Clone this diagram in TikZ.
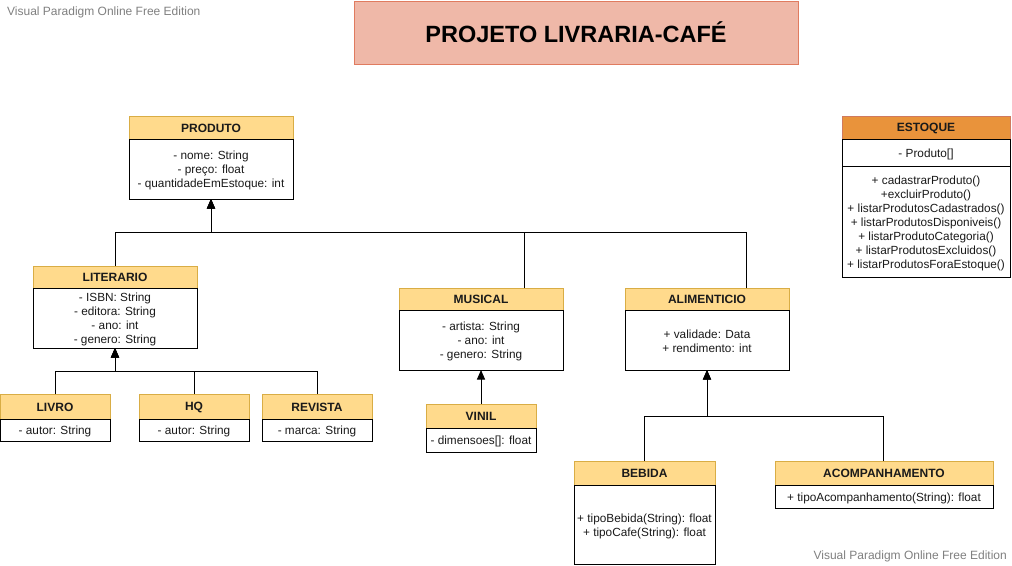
\documentclass[tikz,border=0pt]{standalone}
\usepackage{fontspec}
\setmainfont{Liberation Sans}
\usetikzlibrary{arrows.meta}
\definecolor{hdrfill}{HTML}{FFDA8C}
\definecolor{hdrline}{HTML}{D9AD45}
\definecolor{estfill}{HTML}{E9933B}
\definecolor{estline}{HTML}{D07A5E}
\definecolor{titfill}{HTML}{EFB8A8}
\definecolor{titline}{HTML}{E07B5F}
\definecolor{wm}{HTML}{808080}
\definecolor{txt}{HTML}{1A1A1A}
\tikzset{
  base/.style={anchor=north west, inner sep=0pt, outer sep=0pt, line width=1pt, align=center, text=txt},
  hdr/.style={base, draw=hdrline, fill=hdrfill},
  esthdr/.style={base, draw=estline, fill=estfill},
  hdrtext/.style={inner sep=0pt, align=center, text=txt, font=\fontsize{12}{14}\selectfont\bfseries},
  bodyrect/.style={base, draw=black, fill=white},
  bodytext/.style={inner sep=0pt, align=center, text=txt, font=\fontsize{11.8}{14}\selectfont},
  inh/.style={draw=black, line width=1pt, -{Triangle[width=8pt,length=9.5pt]}},
  wmark/.style={text=wm, inner sep=0pt, font=\fontsize{12}{14}\selectfont}
}
% name, x, y, width, height, text
\newcommand\umlbody[6]{%
  \node[bodyrect, minimum width=#4pt, minimum height=#5pt] (#1) at (#2,#3) {};
  \node[bodytext] (#1-t) at ([yshift=-1.5pt]#1.center) {#6};
}
% style, name, x, y, width, height, text
\newcommand\umlhead[7]{%
  \node[#1, minimum width=#5pt, minimum height=#6pt] (#2) at (#3,#4) {};
  \node[hdrtext] (#2-t) at ([yshift=-0.8pt]#2.center) {#7};
}
\begin{document}
\begin{tikzpicture}[x=1pt, y=-1pt]
\useasboundingbox (0,0) rectangle (1012,565);
\fill[white] (0,0) rectangle (1012,565);

% watermarks
\node[wmark, anchor=west] (wm1) at (7,12) {Visual Paradigm Online Free Edition};
\node[wmark, anchor=east] (wm2) at (1007,556) {Visual Paradigm Online Free Edition};

% title
\node[base, draw=titline, fill=titfill, minimum width=444pt, minimum height=63pt, font=\fontsize{23.5}{28}\selectfont\bfseries, text=black] (title) at (354,1) {PROJETO LIVRARIA-CAFÉ};

% PRODUTO
\umlhead{hdr}{produtoH}{129}{116}{164}{23}{PRODUTO}
\umlbody{produtoB}{129}{139}{164}{60}{- nome: String\\- preço: float\\- quantidadeEmEstoque: int}

% ESTOQUE
\umlhead{esthdr}{estoqueH}{842}{116}{168}{23}{ESTOQUE}
\umlbody{estoqueA}{842}{139}{168}{27}{- Produto[]}
\umlbody{estoqueM}{842}{166}{168}{111}{+ cadastrarProduto()\\+excluirProduto()\\+ listarProdutosCadastrados()\\+ listarProdutosDisponiveis()\\+ listarProdutoCategoria()\\+ listarProdutosExcluidos()\\+ listarProdutosForaEstoque()}

% LITERARIO
\umlhead{hdr}{literarioH}{33}{266}{164}{22}{LITERARIO}
\umlbody{literarioB}{33}{288}{164}{60}{- ISBN: String\\- editora: String\\- ano: int\\- genero: String}

% LIVRO, HQ, REVISTA
\umlhead{hdr}{livroH}{0}{394}{110}{25}{LIVRO}
\umlbody{livroB}{0}{419}{110}{22}{- autor: String}
\umlhead{hdr}{hqH}{139}{394}{110}{25}{HQ}
\umlbody{hqB}{139}{419}{110}{22}{- autor: String}
\umlhead{hdr}{revistaH}{262}{394}{110}{25}{REVISTA}
\umlbody{revistaB}{262}{419}{110}{22}{- marca: String}

% MUSICAL
\umlhead{hdr}{musicalH}{399}{288}{164}{22}{MUSICAL}
\umlbody{musicalB}{399}{310}{164}{60}{- artista: String\\- ano: int\\- genero: String}

% VINIL
\umlhead{hdr}{vinilH}{426}{404}{110}{24}{VINIL}
\umlbody{vinilB}{426}{428}{110}{24}{- dimensoes[]: float}

% ALIMENTICIO
\umlhead{hdr}{alimH}{625}{288}{164}{22}{ALIMENTICIO}
\umlbody{alimB}{625}{310}{164}{60}{+ validade: Data\\+ rendimento: int}

% BEBIDA
\umlhead{hdr}{bebidaH}{574}{461}{141}{24}{BEBIDA}
\umlbody{bebidaB}{574}{485}{141}{79}{+ tipoBebida(String): float\\+ tipoCafe(String): float}

% ACOMPANHAMENTO
\umlhead{hdr}{acompH}{775}{461}{218}{24}{ACOMPANHAMENTO}
\umlbody{acompB}{775}{485}{218}{23}{+ tipoAcompanhamento(String): float}

% buses
\coordinate (busP) at (0,232);
\coordinate (busL) at (0,371);
\coordinate (busA) at (0,416);

% inheritance connectors
\draw[inh] (literarioH.north) -- (literarioH.north |- busP) -| (produtoB.south);
\draw[inh] ([xshift=43pt]musicalH.north) -- ([xshift=43pt]musicalH.north |- busP) -| (produtoB.south);
\draw[inh] ([xshift=39pt]alimH.north) -- ([xshift=39pt]alimH.north |- busP) -| (produtoB.south);

\draw[inh] (livroH.north) -- (livroH.north |- busL) -| (literarioB.south);
\draw[inh] (hqH.north) -- (hqH.north |- busL) -| (literarioB.south);
\draw[inh] (revistaH.north) -- (revistaH.north |- busL) -| (literarioB.south);

\draw[inh] (vinilH.north) -- (musicalB.south);

\draw[inh] ([xshift=-0.5pt]bebidaH.north) -- ([xshift=-0.5pt]bebidaH.north |- busA) -| (alimB.south);
\draw[inh] ([xshift=-0.5pt]acompH.north) -- ([xshift=-0.5pt]acompH.north |- busA) -| (alimB.south);
\end{tikzpicture}
\end{document}
